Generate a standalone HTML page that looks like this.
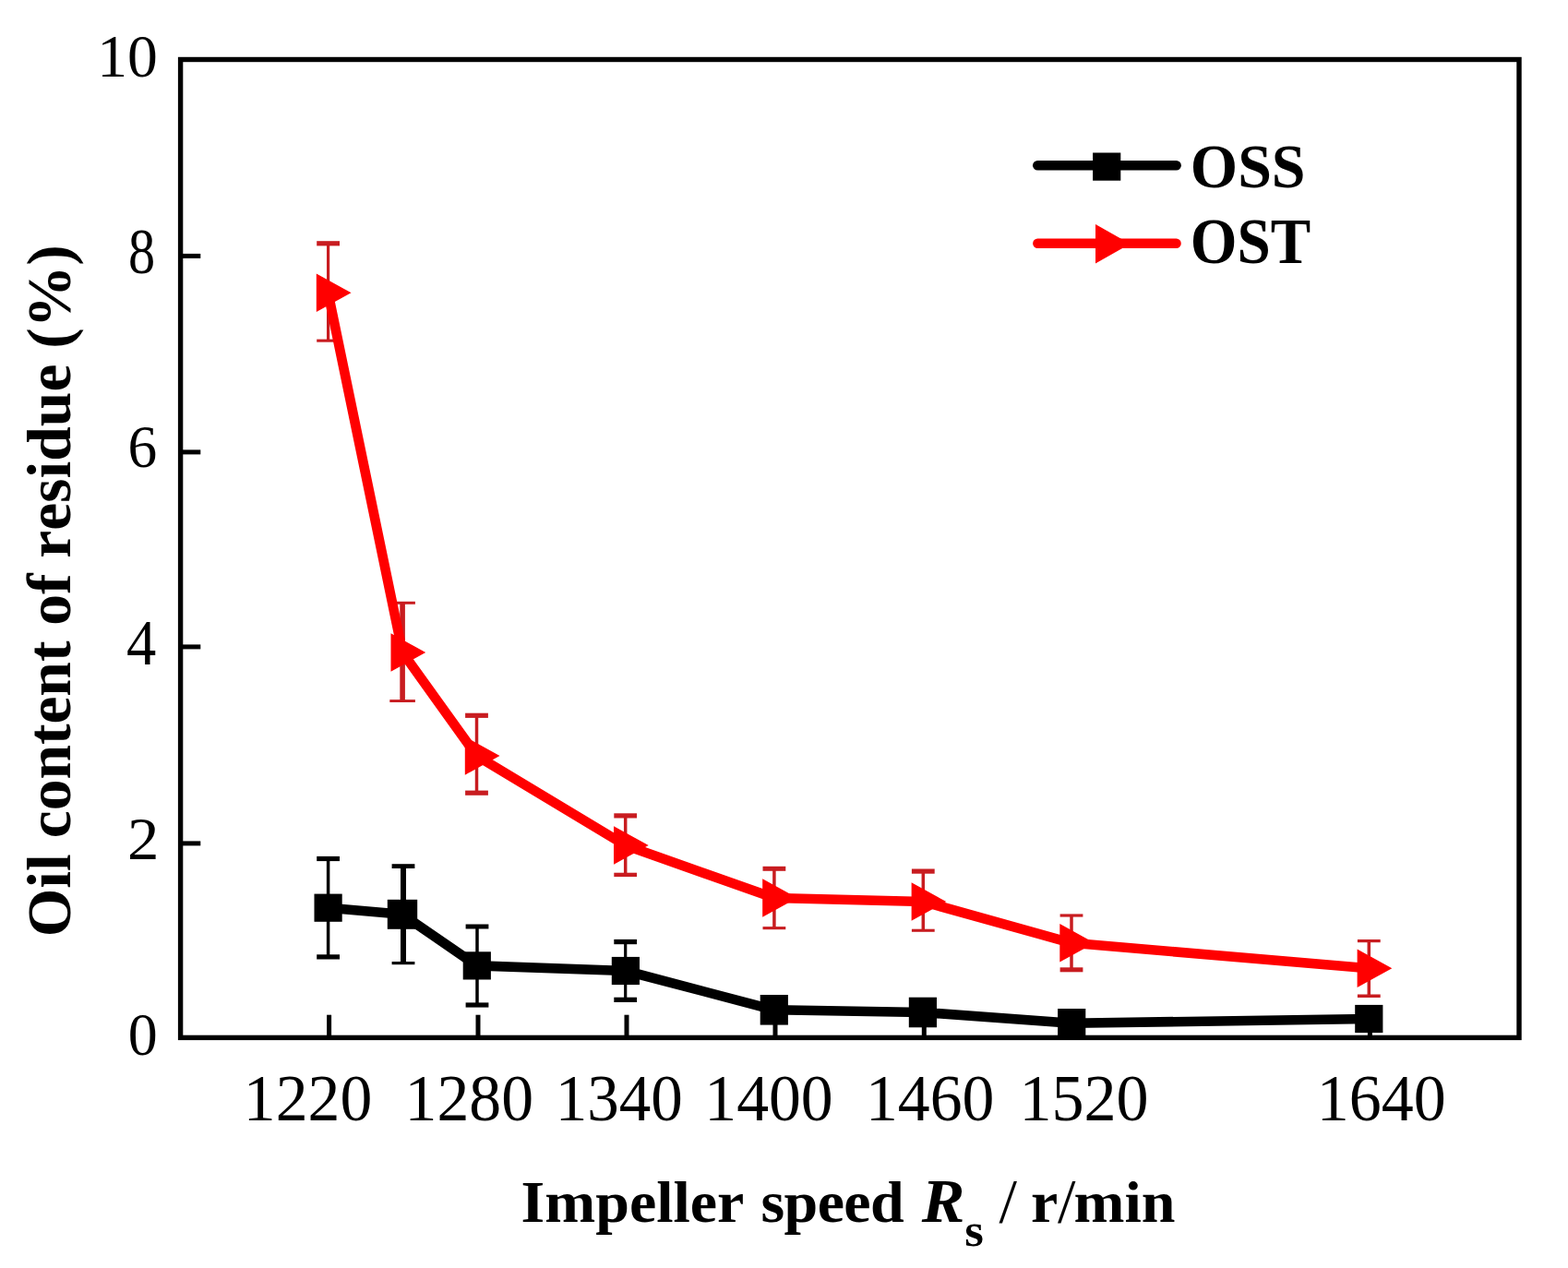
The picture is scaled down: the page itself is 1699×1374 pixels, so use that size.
<!DOCTYPE html>
<html lang="en"><head><meta charset="utf-8"><title>Oil content of residue vs impeller speed</title>
<style>html,body{margin:0;padding:0;background:#fff}body{width:1699px;height:1374px;overflow:hidden}svg{display:block}text{font-family:"Liberation Serif",serif;fill:#000;font-kerning:none}.b{font-weight:bold}.i{font-style:italic}.n{font-weight:normal}</style></head><body>
<svg role="img" aria-label="Oil content of residue versus impeller speed for OSS and OST" width="1699" height="1374" viewBox="0 0 1699 1374">
<rect width="1699" height="1374" fill="#fff"/>
<g stroke="#000" stroke-width="5" fill="none">
<line x1="356.6" y1="1124.4" x2="356.6" y2="1099.7"/>
<line x1="518" y1="1124.4" x2="518" y2="1099.7"/>
<line x1="679" y1="1124.4" x2="679" y2="1099.7"/>
<line x1="840" y1="1124.4" x2="840" y2="1099.7"/>
<line x1="1001.3" y1="1124.4" x2="1001.3" y2="1099.7"/>
<line x1="1162" y1="1124.4" x2="1162" y2="1099.7"/>
<line x1="1484.4" y1="1124.4" x2="1484.4" y2="1099.7"/>
<line x1="195.6" y1="277.4" x2="217.3" y2="277.4"/>
<line x1="195.6" y1="489.9" x2="217.3" y2="489.9"/>
<line x1="195.6" y1="700.9" x2="217.3" y2="700.9"/>
<line x1="195.6" y1="913.9" x2="217.3" y2="913.9"/>
</g>
<g>
<g stroke="#000" fill="none"><line x1="355.6" y1="928.9" x2="355.6" y2="1038.5" stroke-width="3.5"/>
<line x1="343.2" y1="930.5" x2="368" y2="930.5" stroke-width="5.2"/>
<line x1="343.2" y1="1036.9" x2="368" y2="1036.9" stroke-width="5.2"/></g>
<g stroke="#000" fill="none"><line x1="437" y1="937.2" x2="437" y2="1044.2" stroke-width="6"/>
<line x1="424.6" y1="938.6" x2="449.4" y2="938.6" stroke-width="4.8"/>
<line x1="424.6" y1="1043.6" x2="449.4" y2="1043.6" stroke-width="3.2"/></g>
<g stroke="#000" fill="none"><line x1="517" y1="1002.5" x2="517" y2="1090.6" stroke-width="3.5"/>
<line x1="504.6" y1="1004" x2="529.4" y2="1004" stroke-width="5"/>
<line x1="504.6" y1="1089" x2="529.4" y2="1089" stroke-width="5.2"/></g>
<g stroke="#000" fill="none"><line x1="677.7" y1="1018.9" x2="677.7" y2="1085" stroke-width="3.2"/>
<line x1="665.3" y1="1020.55" x2="690.1" y2="1020.55" stroke-width="5.3"/>
<line x1="665.3" y1="1083.35" x2="690.1" y2="1083.35" stroke-width="5.3"/></g>
<polyline fill="none" stroke="#000" stroke-width="10.6" stroke-linejoin="round" points="355.6,983.7 436,990.8 516.8,1046.4 677.9,1052 838.8,1094.3 999.9,1097 1161.2,1108.8 1483.3,1104"/>
<rect x="340.5" y="968.6" width="30.2" height="30.2" fill="#000"/>
<rect x="419.8" y="974.8" width="32.4" height="32" fill="#000"/>
<rect x="501.7" y="1031.3" width="30.2" height="30.2" fill="#000"/>
<rect x="662.8" y="1036.9" width="30.2" height="30.2" fill="#000"/>
<rect x="823.7" y="1078" width="30.2" height="32.6" fill="#000"/>
<rect x="984.8" y="1080.7" width="30.2" height="32.6" fill="#000"/>
<rect x="1146.1" y="1093" width="30.2" height="31.6" fill="#000"/>
<rect x="1468.2" y="1088.9" width="30.2" height="30.2" fill="#000"/>
</g>
<g>
<g stroke="#c81c20" fill="none"><line x1="355.6" y1="262.2" x2="355.6" y2="369.7" stroke-width="3.2"/>
<line x1="343.2" y1="263.8" x2="368" y2="263.8" stroke-width="5.2"/>
<line x1="343.2" y1="369.15" x2="368" y2="369.15" stroke-width="3.1"/></g>
<g stroke="#c81c20" fill="none"><line x1="436.1" y1="652.8" x2="436.1" y2="760" stroke-width="5.6"/>
<line x1="422.3" y1="653.3" x2="449.9" y2="653.3" stroke-width="3"/>
<line x1="422.3" y1="759.55" x2="449.9" y2="759.55" stroke-width="2.9"/></g>
<g stroke="#c81c20" fill="none"><line x1="516.5" y1="773.7" x2="516.5" y2="860.8" stroke-width="3.5"/>
<line x1="504.1" y1="775.3" x2="528.9" y2="775.3" stroke-width="5.2"/>
<line x1="504.1" y1="859.2" x2="528.9" y2="859.2" stroke-width="5.2"/></g>
<g stroke="#c81c20" fill="none"><line x1="677.7" y1="882.3" x2="677.7" y2="949.1" stroke-width="3.5"/>
<line x1="665.3" y1="883.9" x2="690.1" y2="883.9" stroke-width="5.2"/>
<line x1="665.3" y1="947.9" x2="690.1" y2="947.9" stroke-width="4.4"/></g>
<g stroke="#c81c20" fill="none"><line x1="838.9" y1="939.8" x2="838.9" y2="1006.2" stroke-width="3.5"/>
<line x1="826.5" y1="941.3" x2="851.3" y2="941.3" stroke-width="5"/>
<line x1="826.5" y1="1005.65" x2="851.3" y2="1005.65" stroke-width="3.1"/></g>
<g stroke="#c81c20" fill="none"><line x1="1000.3" y1="942.5" x2="1000.3" y2="1008.8" stroke-width="3.5"/>
<line x1="987.9" y1="944.1" x2="1012.7" y2="944.1" stroke-width="5.2"/>
<line x1="987.9" y1="1008.25" x2="1012.7" y2="1008.25" stroke-width="3.1"/></g>
<g stroke="#c81c20" fill="none"><line x1="1161" y1="991.4" x2="1161" y2="1052.3" stroke-width="3.5"/>
<line x1="1148.6" y1="992" x2="1173.4" y2="992" stroke-width="3.2"/>
<line x1="1148.6" y1="1050.8" x2="1173.4" y2="1050.8" stroke-width="5"/></g>
<g stroke="#c81c20" fill="none"><line x1="1483.3" y1="1019" x2="1483.3" y2="1080" stroke-width="3.5"/>
<line x1="1470.9" y1="1019.6" x2="1495.7" y2="1019.6" stroke-width="3.2"/>
<line x1="1470.9" y1="1079.25" x2="1495.7" y2="1079.25" stroke-width="3.5"/></g>
<polyline fill="none" stroke="#ff0000" stroke-width="10.6" stroke-linejoin="round" points="355.5,317.3 436.2,707 516.5,819 677.7,916 838.9,973 1000.3,977 1161,1021.8 1483.3,1049.2"/>
<polygon points="342.8,296.6 342.8,338 380.5,317.3" fill="#ff0000"/>
<polygon points="423.5,686.3 423.5,727.7 461.2,707" fill="#ff0000"/>
<polygon points="503.8,798.3 503.8,839.7 541.5,819" fill="#ff0000"/>
<polygon points="665,895.3 665,936.7 702.7,916" fill="#ff0000"/>
<polygon points="826.2,952.3 826.2,993.7 863.9,973" fill="#ff0000"/>
<polygon points="987.6,956.3 987.6,997.7 1025.3,977" fill="#ff0000"/>
<polygon points="1148.3,1001.1 1148.3,1042.5 1186,1021.8" fill="#ff0000"/>
<polygon points="1470.6,1028.5 1470.6,1069.9 1508.3,1049.2" fill="#ff0000"/>
</g>
<rect x="195.6" y="64.5" width="1450.4" height="1059.9" fill="none" stroke="#000" stroke-width="5.4"/>
<line x1="1124.3" y1="179.3" x2="1274.6" y2="179.3" stroke="#000" stroke-width="10.6" stroke-linecap="round"/>
<rect x="1184.1" y="165.5" width="30.2" height="30.2" fill="#000"/>
<line x1="1124.3" y1="263.8" x2="1274.6" y2="263.8" stroke="#ff0000" stroke-width="10.4" stroke-linecap="round"/>
<polygon points="1187,243 1187,285.6 1224.6,264.3" fill="#ff0000"/>
<text class="b" transform="translate(1289.78 202.93) scale(0.6604 0.6832)" font-size="100">OSS</text>
<text class="b" transform="translate(1289.82 285.32) scale(0.6520 0.6921)" font-size="100">OST</text>
<text transform="translate(105.13 83.26) scale(0.6567 0.6506)" font-size="100">10</text>
<text transform="translate(138.98 296.13) scale(0.5828 0.6891)" font-size="100">8</text>
<text transform="translate(138.47 506.17) scale(0.6343 0.6489)" font-size="100">6</text>
<text transform="translate(137.04 720.00) scale(0.6454 0.7019)" font-size="100">4</text>
<text transform="translate(137.97 930.60) scale(0.6885 0.6615)" font-size="100">2</text>
<text transform="translate(138.76 1143.26) scale(0.6394 0.6506)" font-size="100">0</text>
<text transform="translate(263.87 1213.59) scale(0.6974 0.7261)" font-size="100">1220</text>
<text transform="translate(438.57 1213.59) scale(0.6974 0.7261)" font-size="100">1280</text>
<text transform="translate(601.63 1213.59) scale(0.6905 0.7261)" font-size="100">1340</text>
<text transform="translate(763.27 1213.59) scale(0.6974 0.7261)" font-size="100">1400</text>
<text transform="translate(937.97 1213.59) scale(0.6974 0.7261)" font-size="100">1460</text>
<text transform="translate(1104.44 1213.59) scale(0.7006 0.7261)" font-size="100">1520</text>
<text transform="translate(1426.85 1213.59) scale(0.7001 0.7261)" font-size="100">1640</text>
<text class="b" transform="translate(0 1323.5) scale(1 0.955)" font-size="66" xml:space="preserve"><tspan x="564.556" y="0">Impeller</tspan> <tspan x="824.52" letter-spacing="-0.6">speed</tspan> <tspan class="i" x="998.77" font-size="70">R</tspan><tspan x="1045.31" dy="27.8" font-size="53">s</tspan><tspan dy="-27.8" x="1064.9" class="n" font-size="70"> /</tspan> <tspan x="1117.02">r</tspan><tspan class="n" x="1146" font-size="70">/</tspan><tspan x="1163.52">min</tspan></text>
<text class="b" transform="translate(76.4 1015.21) rotate(-90)" font-size="67.5">Oil content of residue (%)</text>
</svg></body></html>
